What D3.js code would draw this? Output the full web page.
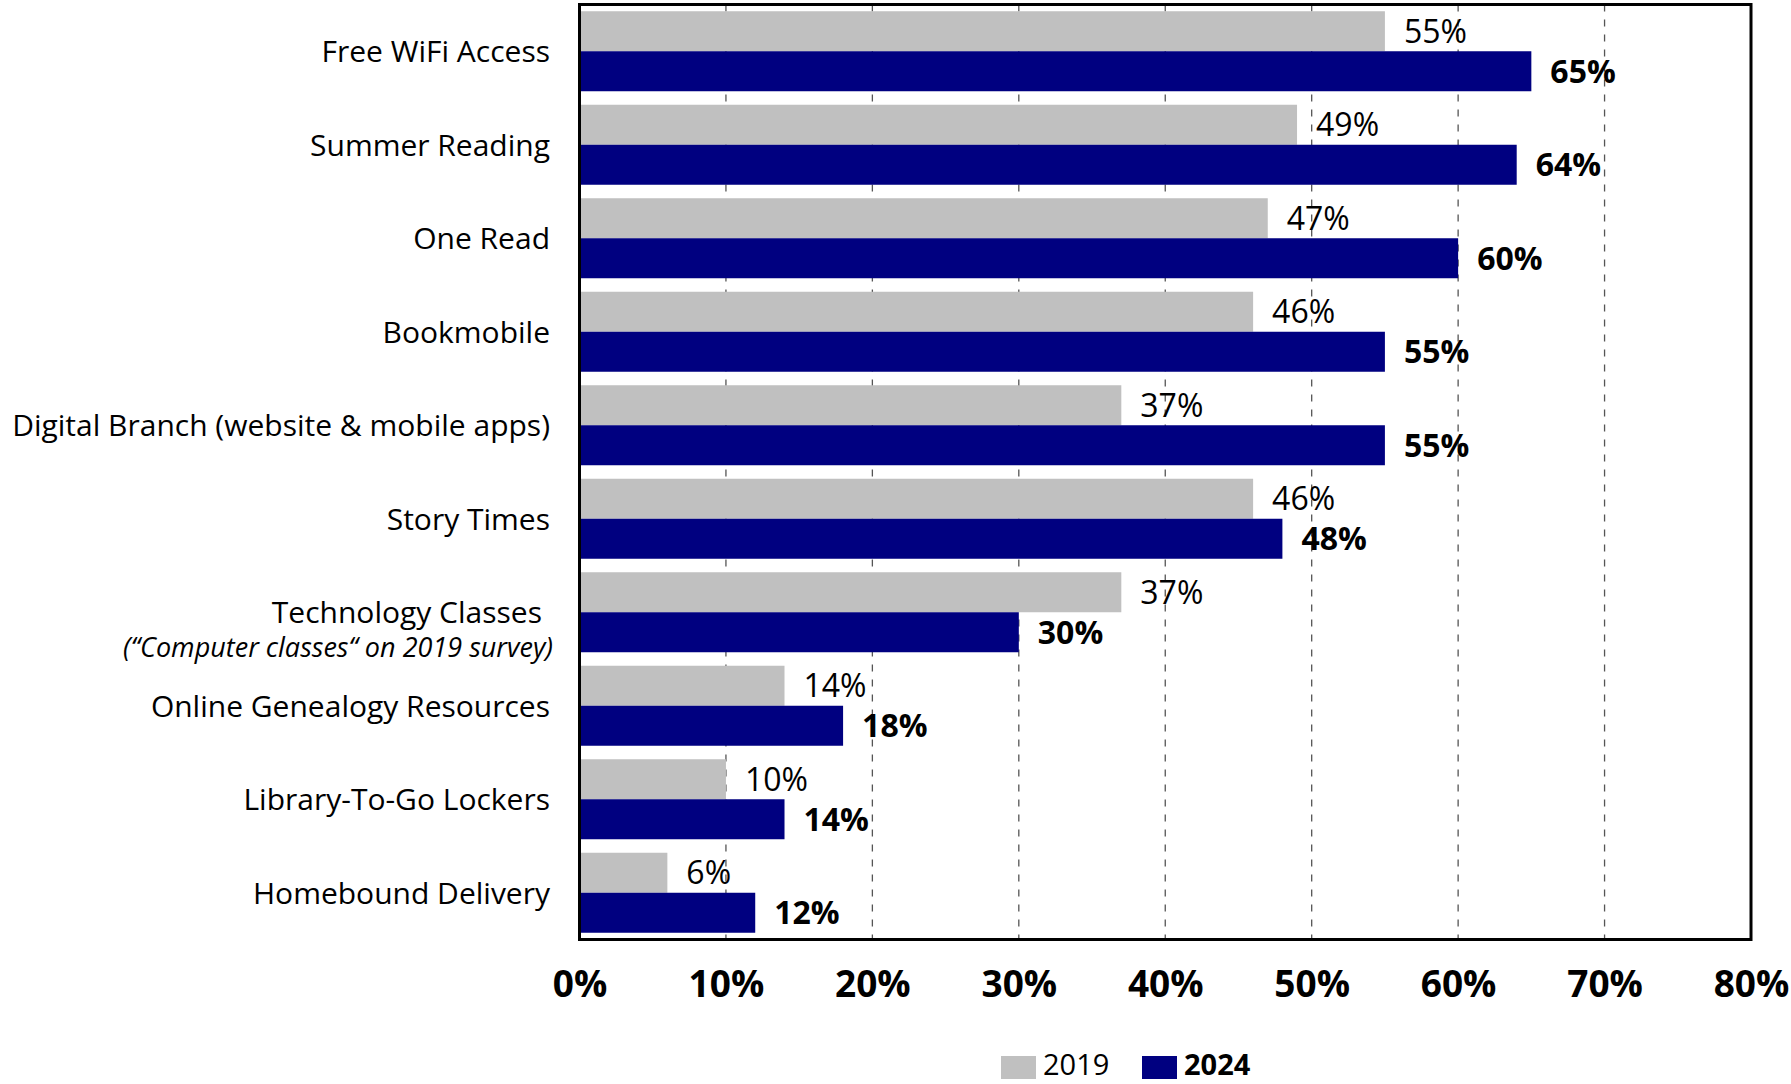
<!DOCTYPE html>
<html>
<head>
<meta charset="utf-8">
<script src="https://cdn.jsdelivr.net/npm/d3@7"></script>
<style>
  html, body { margin: 0; padding: 0; background: #fff; }
  svg { display: block; font-family: "Open Sans", "Noto Sans", sans-serif; }
</style>
</head>
<body>
<svg id="chart" width="1791" height="1084"></svg>
<script>
// Library services used, share of respondents (%)
const categories = [
  "Free WiFi Access",
  "Summer Reading",
  "One Read",
  "Bookmobile",
  "Digital Branch (website & mobile apps)",
  "Story Times",
  "Technology Classes",
  "Online Genealogy Resources",
  "Library-To-Go Lockers",
  "Homebound Delivery"
];
const categoryNotes = {
  "Technology Classes": "(\u201CComputer classes\u201C on 2019 survey)"
};
const seriesNames = ["2019", "2024"];
const values2019 = [55, 49, 47, 46, 37, 46, 37, 14, 10, 6];
const values2024 = [65, 64, 60, 55, 55, 48, 30, 18, 14, 12];
const tickValues = [0, 10, 20, 30, 40, 50, 60, 70, 80];

const colors = { "2019": "#c0c0c0", "2024": "#000080" };

const svg = d3.select("#chart");

const plot = { left: 579.5, right: 1751, top: 4.5, bottom: 939.5 };

const x = d3.scaleLinear().domain([0, 80]).range([plot.left, plot.right]);

const gapRatio = 13.5 / 93.5;
const y = d3.scaleBand()
  .domain(categories)
  .range([plot.top, plot.bottom])
  .paddingInner(gapRatio)
  .paddingOuter(gapRatio / 2);

const ySub = d3.scaleBand().domain(seriesNames).range([0, y.bandwidth()]);

const rows = categories.map((c, i) => ({
  category: c,
  series: [
    { name: "2019", value: values2019[i] },
    { name: "2024", value: values2024[i] }
  ]
}));

// dashed vertical gridlines (behind bars)
svg.append("g")
  .selectAll("line")
  .data(tickValues.filter(t => t > 0 && t < 80))
  .join("line")
  .attr("x1", d => x(d)).attr("x2", d => x(d))
  .attr("y1", plot.top).attr("y2", plot.bottom)
  .attr("stroke", "#555")
  .attr("stroke-width", 1.3)
  .attr("stroke-dasharray", "7,8");

// bars
const groups = svg.append("g")
  .selectAll("g")
  .data(rows)
  .join("g")
  .attr("transform", d => `translate(0,${y(d.category)})`);

groups.selectAll("rect")
  .data(d => d.series)
  .join("rect")
  .attr("x", x(0))
  .attr("y", d => ySub(d.name))
  .attr("width", d => x(d.value) - x(0))
  .attr("height", ySub.bandwidth())
  .attr("fill", d => colors[d.name]);

// value labels
groups.selectAll("text")
  .data(d => d.series)
  .join("text")
  .attr("x", d => x(d.value) + 19)
  .attr("y", d => ySub(d.name) + ySub.bandwidth() / 2)
  .attr("dy", "0.36em")
  .attr("font-size", 32)
  .attr("font-weight", d => d.name === "2024" ? "bold" : "normal")
  .attr("fill", "#000")
  .text(d => d.value + "%");

// frame around the plot area
svg.append("rect")
  .attr("x", plot.left).attr("y", plot.top)
  .attr("width", plot.right - plot.left)
  .attr("height", plot.bottom - plot.top)
  .attr("fill", "none")
  .attr("stroke", "#000")
  .attr("stroke-width", 3);

// category labels
const catG = svg.append("g");
categories.forEach(c => {
  const cy = y(c) + y.bandwidth() / 2;
  const note = categoryNotes[c];
  if (note) {
    catG.append("text")
      .attr("x", 542).attr("y", cy).attr("dy", "0.36em")
      .attr("text-anchor", "end")
      .attr("font-size", 30)
      .text(c);
    catG.append("text")
      .attr("x", 553).attr("y", cy + 35).attr("dy", "0.36em")
      .attr("text-anchor", "end")
      .attr("font-size", 27)
      .attr("font-style", "italic")
      .text(note);
  } else {
    catG.append("text")
      .attr("x", 550).attr("y", cy).attr("dy", "0.36em")
      .attr("text-anchor", "end")
      .attr("font-size", 30)
      .text(c);
  }
});

// x axis tick labels
const xAxis = d3.axisBottom(x)
  .tickValues(tickValues)
  .tickSize(0)
  .tickPadding(0)
  .tickFormat(d => d + "%");
const axG = svg.append("g")
  .attr("transform", `translate(0,${plot.bottom})`)
  .call(xAxis);
axG.select(".domain").remove();
axG.selectAll("text")
  .attr("y", 57)
  .attr("dy", 0)
  .attr("font-size", 37)
  .attr("font-weight", "bold")
  .attr("font-family", "'Open Sans', sans-serif")
  .attr("fill", "#000");

// legend
const legendItems = [
  { name: "2019", x: 1001, bold: false },
  { name: "2024", x: 1142, bold: true }
];
const lg = svg.append("g");
legendItems.forEach(it => {
  lg.append("rect")
    .attr("x", it.x).attr("y", 1056)
    .attr("width", 35).attr("height", 23)
    .attr("fill", colors[it.name]);
  lg.append("text")
    .attr("x", it.x + 42).attr("y", 1075)
    .attr("font-size", 29)
    .attr("font-weight", it.bold ? "bold" : "normal")
    .text(it.name);
});
</script>
</body>
</html>
